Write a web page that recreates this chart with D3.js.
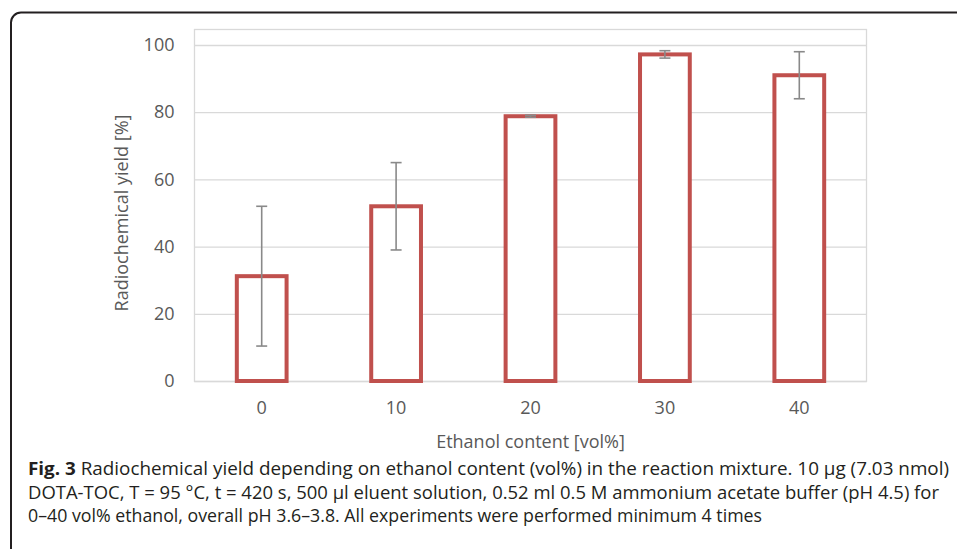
<!DOCTYPE html>
<html>
<head>
<meta charset="utf-8">
<script src="https://cdn.jsdelivr.net/npm/d3@7"></script>
<style>
  body { margin: 0; background: #fff; }
  svg { display: block; }
</style>
</head>
<body>
<div id="chart"></div>
<script>
// values
let categories = ["0", "10", "20", "30", "40"];
let yield_values = [31.2, 52, 78.8, 97.2, 91];
let error_values = [20.8, 13, 0.3, 1.1, 7];
let y_ticks = [0, 20, 40, 60, 80, 100];
let caption_lines = [
  {bold: "Fig. 3", text: " Radiochemical yield depending on ethanol content (vol%) in the reaction mixture. 10 µg (7.03 nmol)"},
  {bold: "", text: "DOTA-TOC, T = 95 °C, t = 420 s, 500 µl eluent solution, 0.52 ml 0.5 M ammonium acetate buffer (pH 4.5) for"},
  {bold: "", text: "0–40 vol% ethanol, overall pH 3.6–3.8. All experiments were performed minimum 4 times"}
];

let layout = {
  width: 957, height: 549,
  plot: {x: 194.5, y: 29.5, width: 672, height: 352},
  y_range: [381, 45],
  font: {family: "'Open Sans', 'Liberation Sans', sans-serif", size: 18},
  caption: {x: 28, y: 475, line: 23.5, size: 17.5, widths: [921, 911, 734]}
};

let svg = d3.select("#chart").append("svg")
  .attr("width", layout.width).attr("height", layout.height);

//outer frame (only the top-left corner shows)
svg.append("rect")
  .attr("x", 11).attr("y", 12.5)
  .attr("width", 1100).attr("height", 700)
  .attr("rx", 10).attr("ry", 10)
  .style("fill", "none").style("stroke", "#231f20").style("stroke-width", 2);

//plot area border
svg.append("rect")
  .attr("x", layout.plot.x).attr("y", layout.plot.y)
  .attr("width", layout.plot.width).attr("height", layout.plot.height)
  .style("fill", "none").style("stroke", "#d9d9d9").style("stroke-width", 1.3);

let x = d3.scaleBand().domain(categories)
  .range([layout.plot.x, layout.plot.x + layout.plot.width])
  .paddingInner(0.6).paddingOuter(0.3);
let y = d3.scaleLinear().domain([0, 100]).range(layout.y_range);

//axis Y with grid
let axis_y = svg.append("g")
  .attr("transform", "translate(" + layout.plot.x + ",0)")
  .call(d3.axisLeft(y).tickValues(y_ticks).tickSizeInner(-layout.plot.width).tickSizeOuter(0).tickPadding(20));
axis_y.select(".domain").remove();
axis_y.selectAll(".tick line").style("stroke", "#d9d9d9").style("stroke-width", 1.3);
axis_y.selectAll(".tick text")
  .style("font-family", layout.font.family).style("font-size", layout.font.size + "px")
  .style("fill", "#595959");

//axis X
let axis_x = svg.append("g")
  .attr("transform", "translate(0," + y(0) + ")")
  .call(d3.axisBottom(x).tickSize(0).tickPadding(20));
axis_x.select(".domain").remove();
axis_x.selectAll(".tick text")
  .style("font-family", layout.font.family).style("font-size", layout.font.size + "px")
  .style("fill", "#595959");

//axis names
svg.append("text")
  .attr("transform", "translate(128," + ((y(0) + y(100)) / 2) + ") rotate(-90)")
  .attr("text-anchor", "middle")
  .style("font-family", layout.font.family).style("font-size", layout.font.size + "px")
  .style("fill", "#595959")
  .text("Radiochemical yield [%]");
svg.append("text")
  .attr("x", layout.plot.x + layout.plot.width / 2).attr("y", 448)
  .attr("text-anchor", "middle")
  .style("font-family", layout.font.family).style("font-size", layout.font.size + "px")
  .style("fill", "#595959")
  .text("Ethanol content [vol%]");

//bars (outlined)
let bar_stroke = 4;
svg.append("g").selectAll("rect").data(yield_values).enter().append("rect")
  .attr("x", function(d, i) { return x(categories[i]) + bar_stroke / 2; })
  .attr("y", function(d) { return y(d); })
  .attr("width", x.bandwidth() - bar_stroke)
  .attr("height", function(d) { return y(0) - y(d); })
  .style("fill", "#fff").style("stroke", "#c0504d").style("stroke-width", bar_stroke);

//error bars
let cap = 5.5;
let errs = svg.append("g").selectAll("g").data(yield_values).enter().append("g")
  .attr("transform", function(d, i) { return "translate(" + (x(categories[i]) + x.bandwidth() / 2) + ",0)"; });
errs.append("line")
  .attr("y1", function(d, i) { return y(d + error_values[i]); })
  .attr("y2", function(d, i) { return y(d - error_values[i]); });
errs.append("line")
  .attr("x1", -cap).attr("x2", cap)
  .attr("y1", function(d, i) { return y(d + error_values[i]); })
  .attr("y2", function(d, i) { return y(d + error_values[i]); });
errs.append("line")
  .attr("x1", -cap).attr("x2", cap)
  .attr("y1", function(d, i) { return y(d - error_values[i]); })
  .attr("y2", function(d, i) { return y(d - error_values[i]); });
errs.selectAll("line").style("stroke", "#898989").style("stroke-width", 1.6);

//caption
let cap_g = svg.append("g");
caption_lines.forEach(function(ln, i) {
  let t = cap_g.append("text")
    .attr("x", layout.caption.x).attr("y", layout.caption.y + i * layout.caption.line)
    .attr("textLength", layout.caption.widths[i]).attr("lengthAdjust", "spacingAndGlyphs")
    .style("font-family", layout.font.family).style("font-size", layout.caption.size + "px")
    .style("fill", "#231f20");
  if (ln.bold) t.append("tspan").style("font-weight", "bold").text(ln.bold);
  t.append("tspan").text(ln.text);
});
</script>
</body>
</html>
